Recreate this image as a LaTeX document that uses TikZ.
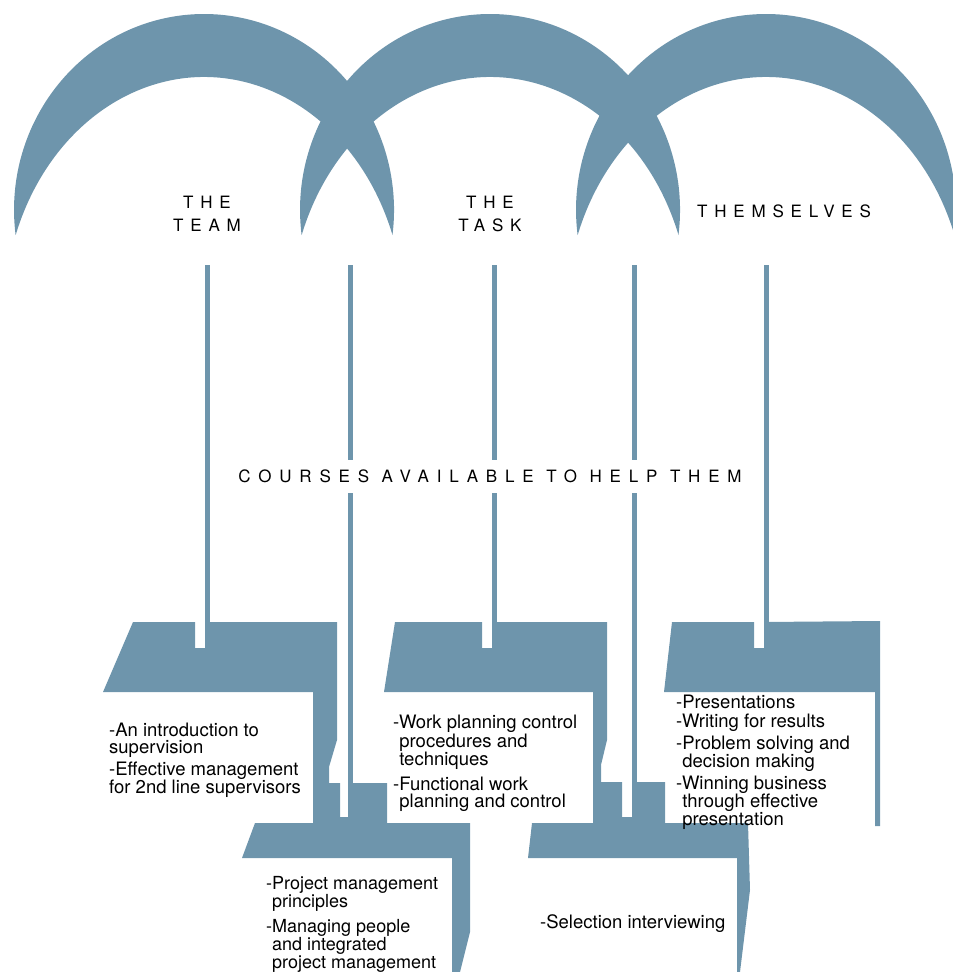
\documentclass[tikz,border=0pt]{standalone}
\usepackage{fontspec}
\setmainfont{TeX Gyre Heros}
\newfontfamily\spacedfont[LetterSpace=40]{TeX Gyre Heros}
\newfontfamily\widefont[LetterSpace=46]{TeX Gyre Heros}
\usetikzlibrary{positioning}
\definecolor{slate}{RGB}{110,149,172}

\begin{document}
\begin{tikzpicture}[
    x=1pt, y=-1pt,
    blob/.style={fill=slate, draw=none},
    stem/.style={draw=slate, line width=5pt},
    head/.style={font=\spacedfont\fontsize{17}{23}\selectfont, align=center, inner sep=0pt},
    list/.style={font=\fontsize{18.5}{17}\selectfont, align=left, anchor=north west, inner sep=0pt}
  ]
  \useasboundingbox (0,0) rectangle (953,972);
  \clip (0,0) rectangle (953,972);

  % Arches
  \foreach \cx in {204,490,766}
    \fill[blob] (\cx-188.4,235) arc[start angle=172.67, end angle=367.33, x radius=190, y radius=196]
      arc[start angle=340.39, end angle=199.61, x radius=200, y radius=237.8] -- cycle;

  % Headings
  \node[head] (team) at (207,214) {THE\\TEAM};
  \node[head] (task) at (490,214) {THE\\TASK};
  \node[head] (selves) at (784,211) {THEMSELVES};

  % Upper boxes
  \fill[blob] (133,622) -- (195,622) -- (195,648) -- (205,648) -- (205,622) -- (337,622)
    -- (337,740) -- (329,767) -- (329,790) -- (313,790) -- (313,692) -- (103,692) -- cycle;
  \fill[blob] (395,622) -- (482,622) -- (482,648) -- (492,648) -- (492,622) -- (607,622)
    -- (607,740) -- (601,765) -- (601,790) -- (593,790) -- (593,692) -- (384,692) -- cycle;
  \fill[blob] (672,622) -- (754,622) -- (754,648) -- (764,648) -- (764,622) -- (880,621)
    -- (880,826) -- (875,826) -- (875,692) -- (664,692) -- cycle;

  % Lower boxes
  \fill[blob] (255,823) -- (313,823) -- (313,783) -- (340,783) -- (340,817) -- (348,817)
    -- (348,783) -- (387,783) -- (387,823) -- (470,823) -- (470,932) -- (460,972)
    -- (452,972) -- (452,858) -- (242,858) -- cycle;
  \fill[blob] (532,823) -- (593,823) -- (593,782) -- (622,782) -- (622,817) -- (632,817)
    -- (632,782) -- (665,782) -- (665,823) -- (748,823) -- (750,890) -- (740,972)
    -- (737,972) -- (737,858) -- (528,858) -- cycle;

  % Stems
  \foreach \sx/\sy in {207/648, 350/817, 494/648, 634/817, 766/648}
    \draw[stem] (\sx,265) -- (\sx,\sy);

  \node[head, font=\widefont\fontsize{17}{23}\selectfont, fill=white, inner xsep=3pt, inner ysep=10pt]
    (courses) at (490,476) {COURSES AVAILABLE TO HELP THEM};

  % Course lists
  \node[list] (teamlist) at (109,723) {-An introduction to\\supervision\\[3pt]
    -Effective management\\for 2nd line supervisors};
  \node[list] (tasklist) at (393,715) {-Work planning control\\\hphantom{-}procedures and\\
    \hphantom{-}techniques\\[6pt]-Functional work\\\hphantom{-}planning and control};
  \node[list] (selveslist) at (676,695) {-Presentations\\[2pt]-Writing for results\\[3pt]
    -Problem solving and\\\hphantom{-}decision making\\[3pt]-Winning business\\
    \hphantom{-}through effective\\\hphantom{-}presentation};
  \node[list, font=\fontsize{18}{16.5}\selectfont] (projlist) at (266,876)
    {-Project management\\\hphantom{-}principles\\[7pt]
    -Managing people\\\hphantom{-}and integrated\\\hphantom{-}project management};
  \node[list] (sellist) at (540,914) {-Selection interviewing};

\end{tikzpicture}
\end{document}
